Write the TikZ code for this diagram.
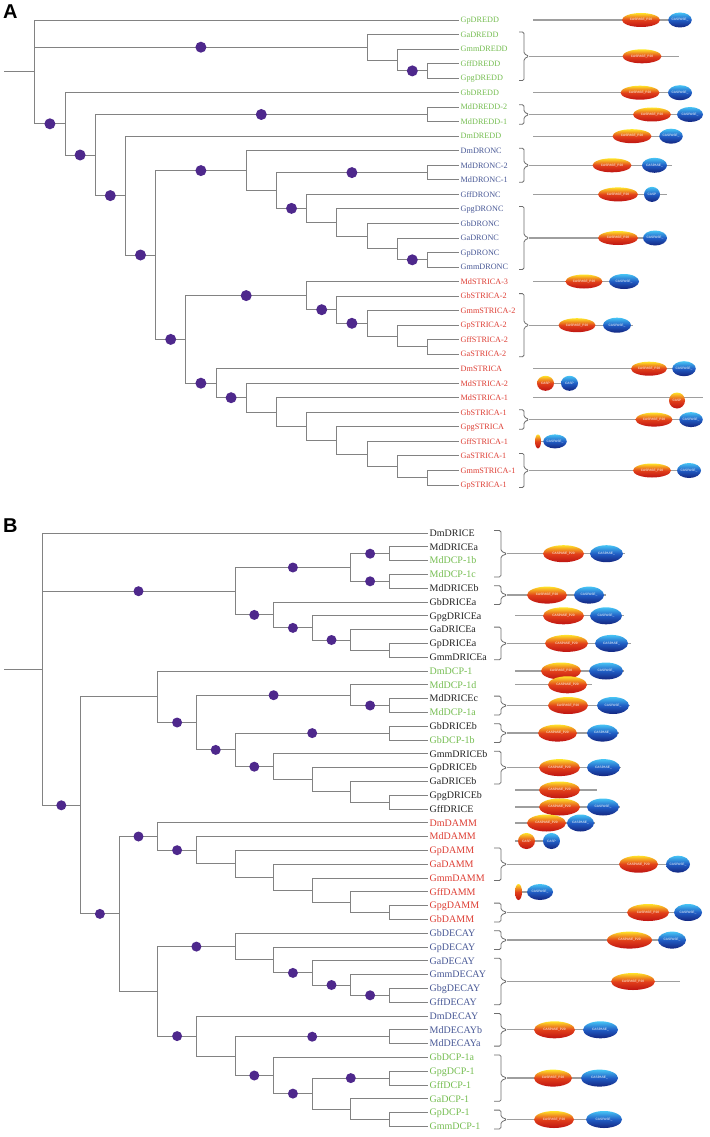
\documentclass[tikz,border=0pt]{standalone}
\usepackage{fontspec}
\setmainfont{Liberation Serif}
\setsansfont{Liberation Sans}
\usetikzlibrary{shapes.geometric}
\definecolor{dgreen}{RGB}{118,190,82}
\definecolor{dred}{RGB}{222,62,52}
\definecolor{dblue}{RGB}{72,88,150}
\definecolor{dblack}{RGB}{35,35,35}
\definecolor{dotc}{RGB}{78,40,140}
\definecolor{treec}{RGB}{130,130,130}
\definecolor{protc}{RGB}{158,158,158}
\definecolor{pyel}{RGB}{255,226,40}
\definecolor{pora}{RGB}{226,64,26}
\definecolor{pred}{RGB}{190,20,18}
\definecolor{pcyan}{RGB}{70,196,245}
\definecolor{pmid}{RGB}{32,92,196}
\definecolor{pdark}{RGB}{20,38,128}
\tikzset{
    branch/.style={draw=treec, line width=0.9pt},
    clade/.style={circle, fill=dotc, inner sep=0pt, minimum size=11pt, pos=0.75},
    cladeB/.style={clade, minimum size=10pt},
    leafA/.style={anchor=west, inner xsep=1.5pt, inner ysep=0pt, text height=5.4pt, text depth=0pt, font=\fontsize{8.2}{9}\selectfont},
    leafB/.style={leafA, text height=6.6pt, font=\fontsize{10}{11}\selectfont},
    brk/.style={draw=treec!85!black, line width=0.8pt, rounded corners=1.5pt},
    prot/.style={draw=protc, line width=1.3pt},
    p20/.style={ellipse, inner sep=0pt, minimum height=14pt, top color=pyel, bottom color=pred, middle color=pora, text=white, font=\sffamily\fontsize{3.2}{4}\selectfont},
    p10/.style={p20, minimum height=15pt, top color=pcyan, bottom color=pdark, middle color=pmid},
    panel/.style={anchor=base west, inner sep=0pt, font=\sffamily\bfseries\fontsize{20}{20}\selectfont}
}
\begin{document}
\begin{tikzpicture}[x=1pt, y=-1pt]
\fill[white] (0,0) rectangle (709,1137);
\useasboundingbox (0,0) rectangle (709,1137);

% ---------- panel A ----------
\node[panel] (tagA) at (3,19) {A};

\node[leafA, text=dgreen] (GpDREDD) at (459,20.0) {GpDREDD};
\node[leafA, text=dgreen] (GaDREDD) at (459,34.5) {GaDREDD};
\node[leafA, text=dgreen] (GmmDREDD) at (459,49.1) {GmmDREDD};
\node[leafA, text=dgreen] (GffDREDD) at (459,63.6) {GffDREDD};
\node[leafA, text=dgreen] (GpgDREDD) at (459,78.1) {GpgDREDD};
\node[leafA, text=dgreen] (GbDREDD) at (459,92.7) {GbDREDD};
\node[leafA, text=dgreen] (MdDREDD2) at (459,107.2) {MdDREDD-2};
\node[leafA, text=dgreen] (MdDREDD1) at (459,121.7) {MdDREDD-1};
\node[leafA, text=dgreen] (DmDREDD) at (459,136.2) {DmDREDD};
\node[leafA, text=dblue] (DmDRONC) at (459,150.8) {DmDRONC};
\node[leafA, text=dblue] (MdDRONC2) at (459,165.3) {MdDRONC-2};
\node[leafA, text=dblue] (MdDRONC1) at (459,179.8) {MdDRONC-1};
\node[leafA, text=dblue] (GffDRONC) at (459,194.4) {GffDRONC};
\node[leafA, text=dblue] (GpgDRONC) at (459,208.9) {GpgDRONC};
\node[leafA, text=dblue] (GbDRONC) at (459,223.4) {GbDRONC};
\node[leafA, text=dblue] (GaDRONC) at (459,238.0) {GaDRONC};
\node[leafA, text=dblue] (GpDRONC) at (459,252.5) {GpDRONC};
\node[leafA, text=dblue] (GmmDRONC) at (459,267.0) {GmmDRONC};
\node[leafA, text=dred] (MdSTRICA3) at (459,281.5) {MdSTRICA-3};
\node[leafA, text=dred] (GbSTRICA2) at (459,296.1) {GbSTRICA-2};
\node[leafA, text=dred] (GmmSTRICA2) at (459,310.6) {GmmSTRICA-2};
\node[leafA, text=dred] (GpSTRICA2) at (459,325.1) {GpSTRICA-2};
\node[leafA, text=dred] (GffSTRICA2) at (459,339.7) {GffSTRICA-2};
\node[leafA, text=dred] (GaSTRICA2) at (459,354.2) {GaSTRICA-2};
\node[leafA, text=dred] (DmSTRICA) at (459,368.7) {DmSTRICA};
\node[leafA, text=dred] (MdSTRICA2) at (459,383.3) {MdSTRICA-2};
\node[leafA, text=dred] (MdSTRICA1) at (459,397.8) {MdSTRICA-1};
\node[leafA, text=dred] (GbSTRICA1) at (459,412.3) {GbSTRICA-1};
\node[leafA, text=dred] (GpgSTRICA) at (459,426.8) {GpgSTRICA};
\node[leafA, text=dred] (GffSTRICA1) at (459,441.4) {GffSTRICA-1};
\node[leafA, text=dred] (GaSTRICA1) at (459,455.9) {GaSTRICA-1};
\node[leafA, text=dred] (GmmSTRICA1) at (459,470.4) {GmmSTRICA-1};
\node[leafA, text=dred] (GpSTRICA1) at (459,485.0) {GpSTRICA-1};

\coordinate (stubA) at (4,71.9);
\coordinate (iA0) at (34.8,71.9);
\coordinate (iA1) at (367.0,47.2);
\coordinate (iA2) at (397.2,60.0);
\coordinate (iA3) at (427.4,70.9);
\coordinate (iA4) at (65.0,123.8);
\coordinate (iA5) at (95.2,155.0);
\coordinate (iA6) at (427.4,114.5);
\coordinate (iA7) at (125.4,195.6);
\coordinate (iA8) at (155.6,255.0);
\coordinate (iA9) at (246.2,170.6);
\coordinate (iA10) at (276.4,190.5);
\coordinate (iA11) at (427.4,172.6);
\coordinate (iA12) at (306.6,208.4);
\coordinate (iA13) at (336.8,222.5);
\coordinate (iA14) at (367.0,236.1);
\coordinate (iA15) at (397.2,248.9);
\coordinate (iA16) at (427.4,259.8);
\coordinate (iA17) at (185.8,339.4);
\coordinate (iA18) at (306.6,295.6);
\coordinate (iA19) at (336.8,309.7);
\coordinate (iA20) at (367.0,323.3);
\coordinate (iA21) at (397.2,336.0);
\coordinate (iA22) at (427.4,346.9);
\coordinate (iA23) at (216.0,383.2);
\coordinate (iA24) at (246.2,397.7);
\coordinate (iA25) at (276.4,412.1);
\coordinate (iA26) at (306.6,426.4);
\coordinate (iA27) at (336.8,440.5);
\coordinate (iA28) at (367.0,454.1);
\coordinate (iA29) at (397.2,466.8);
\coordinate (iA30) at (427.4,477.7);

\draw[branch] (stubA) -- (iA0);
\draw[branch] (iA0) |- (GpDREDD.west);
\draw[branch] (iA0) |- node[clade]{} (iA1);
\draw[branch] (iA0) |- node[clade]{} (iA4);
\draw[branch] (iA1) |- (GaDREDD.west);
\draw[branch] (iA1) |- (iA2);
\draw[branch] (iA2) |- (GmmDREDD.west);
\draw[branch] (iA2) |- node[clade]{} (iA3);
\draw[branch] (iA3) |- (GffDREDD.west);
\draw[branch] (iA3) |- (GpgDREDD.west);
\draw[branch] (iA4) |- (GbDREDD.west);
\draw[branch] (iA4) |- node[clade]{} (iA5);
\draw[branch] (iA5) |- node[clade]{} (iA6);
\draw[branch] (iA5) |- node[clade]{} (iA7);
\draw[branch] (iA6) |- (MdDREDD2.west);
\draw[branch] (iA6) |- (MdDREDD1.west);
\draw[branch] (iA7) |- (DmDREDD.west);
\draw[branch] (iA7) |- node[clade]{} (iA8);
\draw[branch] (iA8) |- node[clade]{} (iA9);
\draw[branch] (iA8) |- node[clade]{} (iA17);
\draw[branch] (iA9) |- (DmDRONC.west);
\draw[branch] (iA9) |- (iA10);
\draw[branch] (iA10) |- node[clade]{} (iA11);
\draw[branch] (iA10) |- node[clade]{} (iA12);
\draw[branch] (iA11) |- (MdDRONC2.west);
\draw[branch] (iA11) |- (MdDRONC1.west);
\draw[branch] (iA12) |- (GffDRONC.west);
\draw[branch] (iA12) |- (iA13);
\draw[branch] (iA13) |- (GpgDRONC.west);
\draw[branch] (iA13) |- (iA14);
\draw[branch] (iA14) |- (GbDRONC.west);
\draw[branch] (iA14) |- (iA15);
\draw[branch] (iA15) |- (GaDRONC.west);
\draw[branch] (iA15) |- node[clade]{} (iA16);
\draw[branch] (iA16) |- (GpDRONC.west);
\draw[branch] (iA16) |- (GmmDRONC.west);
\draw[branch] (iA17) |- node[clade]{} (iA18);
\draw[branch] (iA17) |- node[clade]{} (iA23);
\draw[branch] (iA18) |- (MdSTRICA3.west);
\draw[branch] (iA18) |- node[clade]{} (iA19);
\draw[branch] (iA19) |- (GbSTRICA2.west);
\draw[branch] (iA19) |- node[clade]{} (iA20);
\draw[branch] (iA20) |- (GmmSTRICA2.west);
\draw[branch] (iA20) |- (iA21);
\draw[branch] (iA21) |- (GpSTRICA2.west);
\draw[branch] (iA21) |- (iA22);
\draw[branch] (iA22) |- (GffSTRICA2.west);
\draw[branch] (iA22) |- (GaSTRICA2.west);
\draw[branch] (iA23) |- (DmSTRICA.west);
\draw[branch] (iA23) |- node[clade]{} (iA24);
\draw[branch] (iA24) |- (MdSTRICA2.west);
\draw[branch] (iA24) |- (iA25);
\draw[branch] (iA25) |- (MdSTRICA1.west);
\draw[branch] (iA25) |- (iA26);
\draw[branch] (iA26) |- (GbSTRICA1.west);
\draw[branch] (iA26) |- (iA27);
\draw[branch] (iA27) |- (GpgSTRICA.west);
\draw[branch] (iA27) |- (iA28);
\draw[branch] (iA28) |- (GffSTRICA1.west);
\draw[branch] (iA28) |- (iA29);
\draw[branch] (iA29) |- (GaSTRICA1.west);
\draw[branch] (iA29) |- (iA30);
\draw[branch] (iA30) |- (GmmSTRICA1.west);
\draw[branch] (iA30) |- (GpSTRICA1.west);

% domain architectures A
\foreach \t/\b in {34.5/78.1, 107.2/121.7, 150.8/179.8, 208.9/267.0, 296.1/354.2, 412.3/426.8, 455.9/485.0}
  \draw[brk] (519,{\t-2.5}) -- (524,{\t-2.5}) -- (524,{(\t+\b)/2-2.5}) -- (529,{(\t+\b)/2}) -- (524,{(\t+\b)/2+2.5}) -- (524,{\b+2.5}) -- (519,{\b+2.5});
\foreach \y/\s/\e in {20/533/680, 56.3/529/679, 92.7/533/680, 114.5/529/690, 136.2/533/671, 165.3/529/672, 194.4/533/667, 238.0/529/667, 281.5/533/639, 325.2/529/633, 368.7/533/684, 397.8/533/703, 419.6/529/691, 470.5/529/689, 383.3/546/570, 441.4/538/555}
  \draw[prot] (\s,\y) -- (\e,\y);
\foreach \x/\y/\w [count=\k] in {641/20/38, 642/56.3/39, 640/92.7/39, 652/114.5/38, 632/136.2/39, 612/165.3/39, 618/194.4/40, 618/238.0/40, 584/281.5/37, 577/325.2/37, 649/368.7/36, 654/419.6/37, 652/470.5/38}
  \node[p20, minimum width=\w] (rA\k) at (\x,\y) {CASPASE\_P20};
\foreach \x/\y/\w [count=\k] in {680/20/23, 680/92.7/24, 690/114.5/26, 671/136.2/22, 654.5/165.3/25, 655/238.0/24, 624/281.5/30, 617/325.2/28, 684/368.7/22, 691/419.6/22, 689/470.5/24}
  \node[p10, minimum width=\w] (bA\k) at (\x,\y) {CASPASE\_};
\node[p10, minimum width=16] (bAg) at (652,194.4) {CASP};
\node[p20, minimum width=17, minimum height=15] (rAs1) at (545.5,383.3) {CASP};
\node[p10, minimum width=17] (bAs1) at (569.5,383.3) {CASP};
\node[p20, minimum width=16, minimum height=16] (rAs2) at (677,400.5) {CASP};
\node[p20, minimum width=6] (rAs3) at (538,441.4) {};
\node[p10, minimum width=22, minimum height=14] (bAs3) at (555,441.4) {CASPASE\_};

% ---------- panel B ----------
\node[panel] (tagB) at (3,532) {B};

\node[leafB, text=dblack] (DmDRICE) at (428,533.0) {DmDRICE};
\node[leafB, text=dblack] (MdDRICEa) at (428,546.8) {MdDRICEa};
\node[leafB, text=dgreen] (MdDCP1b) at (428,560.6) {MdDCP-1b};
\node[leafB, text=dgreen] (MdDCP1c) at (428,574.4) {MdDCP-1c};
\node[leafB, text=dblack] (MdDRICEb) at (428,588.2) {MdDRICEb};
\node[leafB, text=dblack] (GbDRICEa) at (428,602.0) {GbDRICEa};
\node[leafB, text=dblack] (GpgDRICEa) at (428,615.8) {GpgDRICEa};
\node[leafB, text=dblack] (GaDRICEa) at (428,629.6) {GaDRICEa};
\node[leafB, text=dblack] (GpDRICEa) at (428,643.4) {GpDRICEa};
\node[leafB, text=dblack] (GmmDRICEa) at (428,657.2) {GmmDRICEa};
\node[leafB, text=dgreen] (DmDCP1) at (428,671.0) {DmDCP-1};
\node[leafB, text=dgreen] (MdDCP1d) at (428,684.8) {MdDCP-1d};
\node[leafB, text=dblack] (MdDRICEc) at (428,698.6) {MdDRICEc};
\node[leafB, text=dgreen] (MdDCP1a) at (428,712.4) {MdDCP-1a};
\node[leafB, text=dblack] (GbDRICEb) at (428,726.2) {GbDRICEb};
\node[leafB, text=dgreen] (GbDCP1b) at (428,740.0) {GbDCP-1b};
\node[leafB, text=dblack] (GmmDRICEb) at (428,753.8) {GmmDRICEb};
\node[leafB, text=dblack] (GpDRICEb) at (428,767.6) {GpDRICEb};
\node[leafB, text=dblack] (GaDRICEb) at (428,781.4) {GaDRICEb};
\node[leafB, text=dblack] (GpgDRICEb) at (428,795.2) {GpgDRICEb};
\node[leafB, text=dblack] (GffDRICE) at (428,809.0) {GffDRICE};
\node[leafB, text=dred] (DmDAMM) at (428,822.8) {DmDAMM};
\node[leafB, text=dred] (MdDAMM) at (428,836.6) {MdDAMM};
\node[leafB, text=dred] (GpDAMM) at (428,850.4) {GpDAMM};
\node[leafB, text=dred] (GaDAMM) at (428,864.2) {GaDAMM};
\node[leafB, text=dred] (GmmDAMM) at (428,878.0) {GmmDAMM};
\node[leafB, text=dred] (GffDAMM) at (428,891.8) {GffDAMM};
\node[leafB, text=dred] (GpgDAMM) at (428,905.6) {GpgDAMM};
\node[leafB, text=dred] (GbDAMM) at (428,919.4) {GbDAMM};
\node[leafB, text=dblue] (GbDECAY) at (428,933.2) {GbDECAY};
\node[leafB, text=dblue] (GpDECAY) at (428,947.0) {GpDECAY};
\node[leafB, text=dblue] (GaDECAY) at (428,960.8) {GaDECAY};
\node[leafB, text=dblue] (GmmDECAY) at (428,974.6) {GmmDECAY};
\node[leafB, text=dblue] (GbgDECAY) at (428,988.4) {GbgDECAY};
\node[leafB, text=dblue] (GffDECAY) at (428,1002.2) {GffDECAY};
\node[leafB, text=dblue] (DmDECAY) at (428,1016.0) {DmDECAY};
\node[leafB, text=dblue] (MdDECAYb) at (428,1029.8) {MdDECAYb};
\node[leafB, text=dblue] (MdDECAYa) at (428,1043.6) {MdDECAYa};
\node[leafB, text=dgreen] (GbDCP1a) at (428,1057.4) {GbDCP-1a};
\node[leafB, text=dgreen] (GpgDCP1) at (428,1071.2) {GpgDCP-1};
\node[leafB, text=dgreen] (GffDCP1) at (428,1085.0) {GffDCP-1};
\node[leafB, text=dgreen] (GaDCP1) at (428,1098.8) {GaDCP-1};
\node[leafB, text=dgreen] (GpDCP1) at (428,1112.6) {GpDCP-1};
\node[leafB, text=dgreen] (GmmDCP1) at (428,1126.4) {GmmDCP-1};

\coordinate (stubB) at (4,669.2);
\coordinate (iB0) at (42.0,669.2);
\coordinate (iB1) at (235.0,591.2);
\coordinate (iB2) at (350.8,567.5);
\coordinate (iB3) at (389.4,553.7);
\coordinate (iB4) at (389.4,581.3);
\coordinate (iB5) at (273.6,614.9);
\coordinate (iB6) at (312.2,627.9);
\coordinate (iB7) at (350.8,640.0);
\coordinate (iB8) at (389.4,650.3);
\coordinate (iB9) at (80.6,805.3);
\coordinate (iB10) at (157.8,696.8);
\coordinate (iB11) at (196.4,722.5);
\coordinate (iB12) at (350.8,695.2);
\coordinate (iB13) at (389.4,705.5);
\coordinate (iB14) at (235.0,749.9);
\coordinate (iB15) at (389.4,733.1);
\coordinate (iB16) at (273.6,766.7);
\coordinate (iB17) at (312.2,779.7);
\coordinate (iB18) at (350.8,791.8);
\coordinate (iB19) at (389.4,802.1);
\coordinate (iB20) at (119.2,913.9);
\coordinate (iB21) at (157.8,836.5);
\coordinate (iB22) at (196.4,850.2);
\coordinate (iB23) at (235.0,863.8);
\coordinate (iB24) at (273.6,877.1);
\coordinate (iB25) at (312.2,890.1);
\coordinate (iB26) at (350.8,902.2);
\coordinate (iB27) at (389.4,912.5);
\coordinate (iB28) at (157.8,991.3);
\coordinate (iB29) at (235.0,946.6);
\coordinate (iB30) at (273.6,959.9);
\coordinate (iB31) at (312.2,972.9);
\coordinate (iB32) at (350.8,985.0);
\coordinate (iB33) at (389.4,995.3);
\coordinate (iB34) at (196.4,1036.1);
\coordinate (iB35) at (235.0,1056.1);
\coordinate (iB36) at (389.4,1036.7);
\coordinate (iB37) at (273.6,1075.5);
\coordinate (iB38) at (312.2,1093.6);
\coordinate (iB39) at (389.4,1078.1);
\coordinate (iB40) at (350.8,1109.2);
\coordinate (iB41) at (389.4,1119.5);

\draw[branch] (stubB) -- (iB0);
\draw[branch] (iB0) |- (DmDRICE.west);
\draw[branch] (iB0) |- node[cladeB]{} (iB1);
\draw[branch] (iB0) |- node[cladeB]{} (iB9);
\draw[branch] (iB1) |- node[cladeB]{} (iB2);
\draw[branch] (iB1) |- node[cladeB]{} (iB5);
\draw[branch] (iB2) |- node[cladeB]{} (iB3);
\draw[branch] (iB2) |- node[cladeB]{} (iB4);
\draw[branch] (iB3) |- (MdDRICEa.west);
\draw[branch] (iB3) |- (MdDCP1b.west);
\draw[branch] (iB4) |- (MdDCP1c.west);
\draw[branch] (iB4) |- (MdDRICEb.west);
\draw[branch] (iB5) |- (GbDRICEa.west);
\draw[branch] (iB5) |- node[cladeB]{} (iB6);
\draw[branch] (iB6) |- (GpgDRICEa.west);
\draw[branch] (iB6) |- node[cladeB]{} (iB7);
\draw[branch] (iB7) |- (GaDRICEa.west);
\draw[branch] (iB7) |- (iB8);
\draw[branch] (iB8) |- (GpDRICEa.west);
\draw[branch] (iB8) |- (GmmDRICEa.west);
\draw[branch] (iB9) |- (iB10);
\draw[branch] (iB9) |- node[cladeB]{} (iB20);
\draw[branch] (iB10) |- (DmDCP1.west);
\draw[branch] (iB10) |- node[cladeB]{} (iB11);
\draw[branch] (iB11) |- node[cladeB]{} (iB12);
\draw[branch] (iB11) |- node[cladeB]{} (iB14);
\draw[branch] (iB12) |- (MdDCP1d.west);
\draw[branch] (iB12) |- node[cladeB]{} (iB13);
\draw[branch] (iB13) |- (MdDRICEc.west);
\draw[branch] (iB13) |- (MdDCP1a.west);
\draw[branch] (iB14) |- node[cladeB]{} (iB15);
\draw[branch] (iB14) |- node[cladeB]{} (iB16);
\draw[branch] (iB15) |- (GbDRICEb.west);
\draw[branch] (iB15) |- (GbDCP1b.west);
\draw[branch] (iB16) |- (GmmDRICEb.west);
\draw[branch] (iB16) |- (iB17);
\draw[branch] (iB17) |- (GpDRICEb.west);
\draw[branch] (iB17) |- (iB18);
\draw[branch] (iB18) |- (GaDRICEb.west);
\draw[branch] (iB18) |- (iB19);
\draw[branch] (iB19) |- (GpgDRICEb.west);
\draw[branch] (iB19) |- (GffDRICE.west);
\draw[branch] (iB20) |- node[cladeB]{} (iB21);
\draw[branch] (iB20) |- (iB28);
\draw[branch] (iB21) |- (DmDAMM.west);
\draw[branch] (iB21) |- node[cladeB]{} (iB22);
\draw[branch] (iB22) |- (MdDAMM.west);
\draw[branch] (iB22) |- (iB23);
\draw[branch] (iB23) |- (GpDAMM.west);
\draw[branch] (iB23) |- (iB24);
\draw[branch] (iB24) |- (GaDAMM.west);
\draw[branch] (iB24) |- (iB25);
\draw[branch] (iB25) |- (GmmDAMM.west);
\draw[branch] (iB25) |- (iB26);
\draw[branch] (iB26) |- (GffDAMM.west);
\draw[branch] (iB26) |- (iB27);
\draw[branch] (iB27) |- (GpgDAMM.west);
\draw[branch] (iB27) |- (GbDAMM.west);
\draw[branch] (iB28) |- node[cladeB]{} (iB29);
\draw[branch] (iB28) |- node[cladeB]{} (iB34);
\draw[branch] (iB29) |- (GbDECAY.west);
\draw[branch] (iB29) |- (iB30);
\draw[branch] (iB30) |- (GpDECAY.west);
\draw[branch] (iB30) |- node[cladeB]{} (iB31);
\draw[branch] (iB31) |- (GaDECAY.west);
\draw[branch] (iB31) |- node[cladeB]{} (iB32);
\draw[branch] (iB32) |- (GmmDECAY.west);
\draw[branch] (iB32) |- node[cladeB]{} (iB33);
\draw[branch] (iB33) |- (GbgDECAY.west);
\draw[branch] (iB33) |- (GffDECAY.west);
\draw[branch] (iB34) |- (DmDECAY.west);
\draw[branch] (iB34) |- (iB35);
\draw[branch] (iB35) |- node[cladeB]{} (iB36);
\draw[branch] (iB35) |- node[cladeB]{} (iB37);
\draw[branch] (iB36) |- (MdDECAYb.west);
\draw[branch] (iB36) |- (MdDECAYa.west);
\draw[branch] (iB37) |- (GbDCP1a.west);
\draw[branch] (iB37) |- node[cladeB]{} (iB38);
\draw[branch] (iB38) |- node[cladeB]{} (iB39);
\draw[branch] (iB38) |- (iB40);
\draw[branch] (iB39) |- (GpgDCP1.west);
\draw[branch] (iB39) |- (GffDCP1.west);
\draw[branch] (iB40) |- (GaDCP1.west);
\draw[branch] (iB40) |- (iB41);
\draw[branch] (iB41) |- (GpDCP1.west);
\draw[branch] (iB41) |- (GmmDCP1.west);

% domain architectures B
\foreach \t/\b in {533.0/574.4, 588.2/602.0, 629.6/657.2, 698.6/712.4, 726.2/740.0, 753.8/781.4, 850.4/878.0, 905.6/919.4, 933.2/947.0, 960.8/1002.2, 1016.0/1043.6, 1057.4/1098.8, 1112.6/1126.4}
  \draw[brk] (494,{\t-2.5}) -- (501,{\t-2.5}) -- (501,{(\t+\b)/2-2.5}) -- (507,{(\t+\b)/2}) -- (501,{(\t+\b)/2+2.5}) -- (501,{\b+2.5}) -- (494,{\b+2.5});
\foreach \y/\s/\e in {553.7/507/625, 595.1/507/606, 615.8/515/624, 643.4/507/631, 671.0/515/624, 684.8/515/592, 705.5/507/630, 733.1/507/619, 767.6/507/621, 790.0/515/597, 807.0/515/620, 823.0/515/595, 841.0/515/560, 864.2/507/690, 892.0/515/540, 912.5/507/702, 940.1/507/686, 981.5/507/680, 1029.8/507/618, 1078.1/507/618, 1119.5/507/622}
  \draw[prot] (\s,\y) -- (\e,\y);
\foreach \x/\y/\w [count=\k] in {563.5/553.7/41, 547/595.1/40, 563.5/615.8/41, 566.5/643.4/43, 561/671.0/40, 567.5/684.8/39, 568/705.5/40, 557.5/733.1/39, 559.5/767.6/41, 559.5/790.0/41, 559.5/807.0/41, 546.5/823.0/39, 638.5/864.2/39, 648/912.5/42, 629.5/940.1/45, 633/981.5/44, 554.5/1029.8/41, 553/1078.1/38, 554/1119.5/40}
  \node[p20, minimum width=\w, minimum height=17] (rB\k) at (\x,\y) {CASPASE\_P20};
\foreach \x/\y/\w [count=\k] in {606.5/553.7/33, 589/595.1/30, 606/615.8/32, 611.5/643.4/33, 606/671.0/34, 613/705.5/32, 602.5/733.1/31, 603.5/767.6/33, 603/807.0/32, 580.5/823.0/27, 678/864.2/24, 688/912.5/28, 672/940.1/28, 600.5/1029.8/35, 599.5/1078.1/37, 604/1119.5/36}
  \node[p10, minimum width=\w, minimum height=17] (bB\k) at (\x,\y) {CASPASE\_};
\node[p20, minimum width=17, minimum height=16] (rBs1) at (526.5,841) {CASP};
\node[p10, minimum width=17, minimum height=16] (bBs1) at (551.5,841) {CASP};
\node[p20, minimum width=7, minimum height=16] (rBs2) at (518.5,892) {};
\node[p10, minimum width=26, minimum height=16] (bBs2) at (540,892) {CASPASE\_};
\end{tikzpicture}
\end{document}
